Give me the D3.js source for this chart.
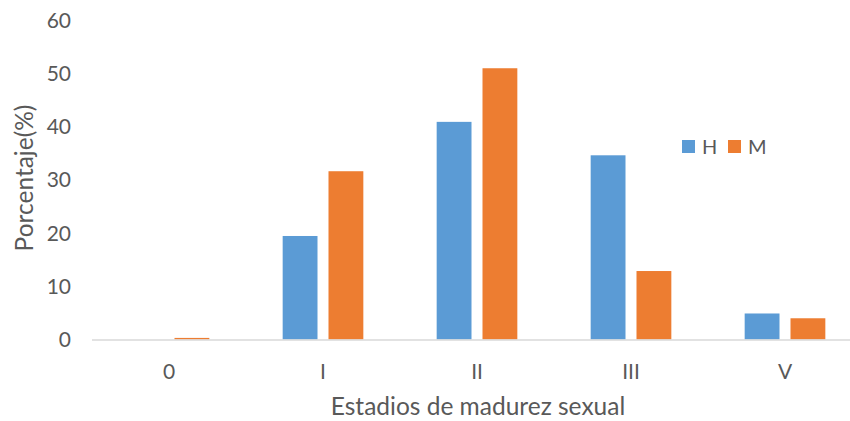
<!DOCTYPE html>
<html>
<head>
<meta charset="utf-8">
<script src="https://cdn.jsdelivr.net/npm/d3@7"></script>
<style>
  html, body { margin: 0; padding: 0; background: #fff; }
  svg { display: block; font-family: Lato, "Open Sans", sans-serif; }
</style>
</head>
<body>
<svg id="chart" width="850" height="421"></svg>
<script>
// Maturity stages and percentage per sex
const categories = ["0", "I", "II", "III", "V"];
const seriesNames = ["H", "M"];
const valuesH = [0, 19.5, 41.0, 34.7, 4.9];
const valuesM = [0.3, 31.7, 51.1, 12.9, 4.0];
const yTicks = [0, 10, 20, 30, 40, 50, 60];
const colors = ["#5B9BD5", "#ED7D31"];

const svg = d3.select("#chart");
const textColor = "#595959";
const fontFamily = 'Lato, "Open Sans", sans-serif';

const x = d3.scaleBand().domain(categories).range([92, 862]).paddingInner(0).paddingOuter(0);
const xs = d3.scaleBand().domain(seriesNames).range([0, x.bandwidth()]).paddingInner(0.24).paddingOuter(0.8);
const y = d3.scaleLinear().domain([0, 60]).range([339.5, 21]);

const series = [valuesH, valuesM];

// Bars
seriesNames.forEach((name, si) => {
  svg.append("g").selectAll("rect")
    .data(categories.map((c, i) => ({ c, v: series[si][i] })))
    .join("rect")
    .attr("x", d => x(d.c) + xs(name))
    .attr("width", xs.bandwidth())
    .attr("y", d => y(d.v))
    .attr("height", d => y(0) - y(d.v))
    .attr("fill", colors[si]);
});

// Horizontal baseline
svg.append("line")
  .attr("x1", 92).attr("x2", 862)
  .attr("y1", y(0) + 0.5).attr("y2", y(0) + 0.5)
  .attr("stroke", "#d9d9d9").attr("stroke-width", 1.5);

// Y axis labels
const yAxis = d3.axisLeft(y).tickValues(yTicks).tickSize(0).tickPadding(0);
const gy = svg.append("g").attr("transform", "translate(71,0)").call(yAxis);
gy.select(".domain").remove();
gy.selectAll("text").attr("fill", textColor).style("font-size", "21px")
  .style("font-family", fontFamily);

// X axis labels (baseline placed directly)
const xAxis = d3.axisBottom(x).tickSize(0).tickPadding(0);
const gx = svg.append("g").attr("transform", "translate(0,379)").call(xAxis);
gx.select(".domain").remove();
gx.selectAll("text").attr("y", 0).attr("dy", null)
  .attr("fill", textColor).style("font-size", "21px")
  .style("font-family", fontFamily);

// Axis titles
svg.append("text")
  .attr("x", 478).attr("y", 415)
  .attr("text-anchor", "middle")
  .attr("fill", textColor).style("font-size", "24.5px")
  .text("Estadios de madurez sexual");

svg.append("text")
  .attr("transform", "translate(33,178) rotate(-90)")
  .attr("text-anchor", "middle")
  .attr("fill", textColor).style("font-size", "24.5px")
  .text("Porcentaje(%)");

// Legend
const legendX = [682, 728];
seriesNames.forEach((name, i) => {
  const g = svg.append("g").attr("transform", `translate(${legendX[i]},140)`);
  g.append("rect").attr("width", 13).attr("height", 13).attr("fill", colors[i]);
  g.append("text").attr("x", 20).attr("y", 14)
    .attr("fill", textColor).style("font-size", "20px").text(name);
});
</script>
</body>
</html>
